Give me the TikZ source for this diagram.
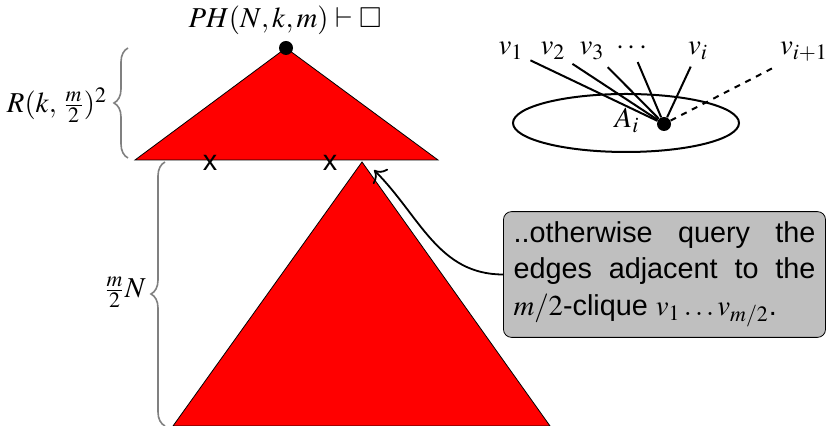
\documentclass[tikz,border=0pt]{standalone}
\usepackage{amssymb}
\usepackage{mathptmx}
\usepackage[no-math]{fontspec}
\setsansfont{Liberation Sans}
\usetikzlibrary{decorations.pathreplacing,arrows.meta}

\begin{document}
\begin{tikzpicture}[
    x=0.5pt, y=0.5pt,
    every node/.style={font=\fontsize{14.4}{18.25}\selectfont},
    tree/.style={draw=black, line width=0.4pt, fill=red},
    vtx/.style={circle, fill=black, inner sep=0pt, minimum size=7pt},
    sizebrace/.style={decorate, decoration={brace, amplitude=7pt}, draw=gray, line width=0.8pt},
    cross/.style={font=\fontsize{14.4}{18.25}\selectfont\sffamily, inner sep=0pt},
    callout/.style={draw, fill=gray!50, rounded corners=4pt, inner sep=5pt,
        text width=151pt, align=justify, font=\fontsize{14.4}{18.25}\selectfont\sffamily},
    edge/.style={line width=1pt}
]
\useasboundingbox (0,0) rectangle (829,426);

% Upper tree
\coordinate (root) at (286,378);
\coordinate (cut) at (362,264);
\coordinate (tip) at (374,256);
\fill[tree] (root) -- (135,266) -- (438,266) -- cycle;
\node[vtx] (top) at (root) {};
\node[anchor=base] (goal) at (285,398) {$PH(N,k,m)\vdash\square$};

% Crossed leaves
\node[cross] (x1) at (210,263) {x};
\node[cross] (x2) at (330,263) {x};

% Lower tree
\fill[tree] (cut) -- (173,0) -- (550,0) -- cycle;

% Braces
\draw[sizebrace] (128,268) -- (128,378);
\node[anchor=base] (rlabel) at (57,313) {$R(k,\,\frac{m}{2})^2$};
\draw[sizebrace] (165,0) -- (165,264);
\node[anchor=base] (nlabel) at (125,128) {$\frac{m}{2}N$};

% Callout
\node[callout] (note) at (664.5,151.5)
    {..otherwise query the edges adjacent to the $m/2$-clique $v_1\dots v_{m/2}$.};
\draw[-{To[scale=1.4]}, line width=0.9pt] (note.west) to[out=180, in=-45] (tip);

% Clique picture
\draw[line width=1pt] (626,303) ellipse [x radius=113, y radius=29];
\node[anchor=base] (A) at (627,298) {$A_i$};
\node[vtx] (a) at (664,302) {};

\node[anchor=base] (v1) at (511,371) {$v_1$};
\node[anchor=base] (v2) at (553,371) {$v_2$};
\node[anchor=base] (v3) at (592,371) {$v_3$};
\node[anchor=base] (vd) at (632,371) {$\cdots$};
\node[anchor=base] (vi) at (698,371) {$v_i$};
\node[anchor=base] (vn) at (804,371) {$v_{i+1}$};

\draw[edge] (a) -- (v1);
\draw[edge] (a) -- (v2);
\draw[edge] (a) -- (v3);
\draw[edge] (a) -- (vd);
\draw[edge] (a) -- (vi);
\draw[edge, dashed] (a) -- (vn);

\end{tikzpicture}
\end{document}
